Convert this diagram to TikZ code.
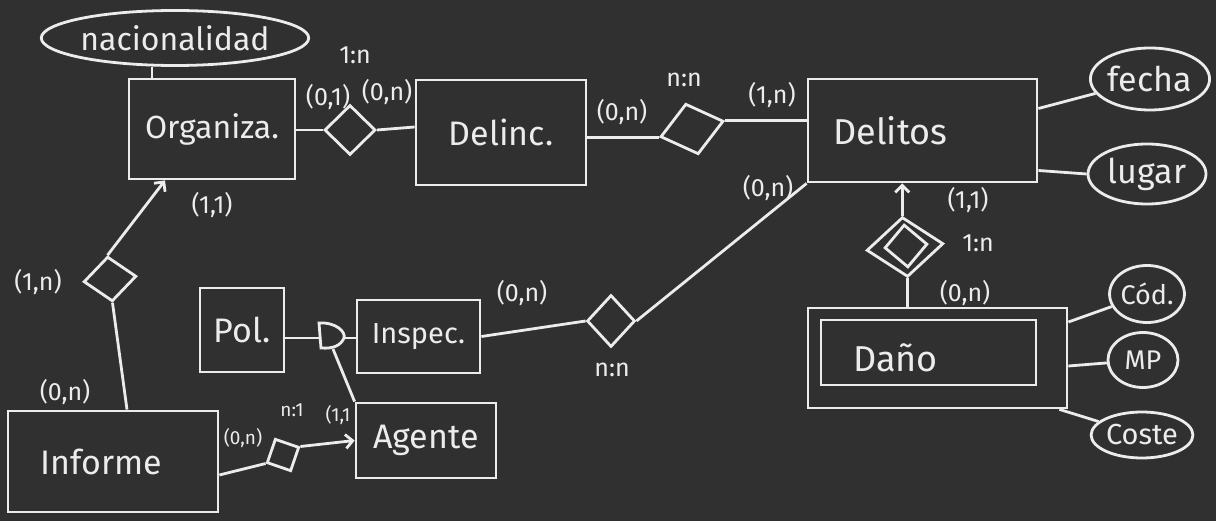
\documentclass[tikz,border=0pt]{standalone}
\usepackage{fontspec}
\setmainfont{Fira Sans}
\usetikzlibrary{shapes.geometric,arrows.meta,calc}
\definecolor{bg}{HTML}{303030}
\definecolor{ink}{HTML}{ECECEC}
\begin{document}
\begin{tikzpicture}[x=1pt,y=-1pt,line width=2.8pt,draw=ink,
  every node/.style={text=ink},
  ent/.style={draw,rectangle,inner sep=0pt,font=\fontsize{34}{36}\selectfont},
  attr/.style={draw,ellipse,inner sep=0pt,font=\fontsize{32}{34}\selectfont},
  rel/.style={draw,diamond,inner sep=0pt},
  lab/.style={inner sep=0pt,font=\fontsize{25}{27}\selectfont},
  slab/.style={inner sep=0pt,font=\fontsize{19}{21}\selectfont},
  arr/.style={-{Straight Barb[length=7pt,width=14pt]}}]
\fill[bg] (0,0) rectangle (1216,521);
\useasboundingbox (0,0) rectangle (1216,521);

% entities
\node[ent,minimum width=166pt,minimum height=100pt,font=\fontsize{32}{34}\selectfont] (org) at (212,129) {Organiza.};
\node[ent,minimum width=170pt,minimum height=105pt] (delinc) at (501,132.5) {Delinc.};
\node[ent,minimum width=229pt,minimum height=103pt,font=\fontsize{36}{38}\selectfont] (delito) at (922.5,130.5) {\hspace*{-64pt}Delitos};
\node[ent,minimum width=123pt,minimum height=73pt,font=\fontsize{29}{31}\selectfont] (inspec) at (418.5,336.5) {Inspec.};
\node[ent,minimum width=84pt,minimum height=84pt] (pol) at (242,330) {Pol.};
\node[ent,minimum width=140pt,minimum height=75pt] (agente) at (426,440.5) {Agente};
\node[ent,minimum width=210pt,minimum height=101pt] (informe) at (113,461.5) {\hspace*{-24pt}Informe};
\node[ent,minimum width=259pt,minimum height=100pt,font=\fontsize{36}{38}\selectfont] (dano) at (937.5,358) {\hspace*{-84pt}Daño};
\node[draw,rectangle,minimum width=215pt,minimum height=65pt,inner sep=0pt] (danoin) at (928.5,352.5) {};

% attributes
\node[attr,minimum width=245pt,minimum height=55pt] (nac) at (175,38) {nacionalidad};
\node[attr,minimum width=115pt,minimum height=62pt,font=\fontsize{34}{36}\selectfont] (fecha) at (1150,79) {fecha};
\node[attr,minimum width=118pt,minimum height=60pt,font=\fontsize{34}{36}\selectfont] (lugar) at (1147,174) {lugar};
\node[attr,minimum width=70pt,minimum height=57pt,font=\fontsize{27}{29}\selectfont] (cod) at (1147,294) {Cód.};
\node[attr,minimum width=70pt,minimum height=55pt,font=\fontsize{27}{29}\selectfont] (mp) at (1143,360) {MP};
\node[attr,minimum width=97pt,minimum height=46pt,font=\fontsize{29}{31}\selectfont] (coste) at (1142,435) {Coste};

% relationships
\node[rel,minimum width=51pt,minimum height=50pt] (r1) at (350,130) {};
\node[rel,minimum width=65pt,minimum height=52pt,rotate=14] (r2) at (692,129) {};
\node[rel,minimum width=48pt,minimum height=52pt] (r3) at (611,321) {};
\node[rel,minimum width=53pt,minimum height=45pt,rotate=6] (r4) at (110,279) {};
\node[rel,minimum width=36pt,minimum height=36pt,rotate=26] (r5) at (283,455) {};
\node[rel,minimum width=77pt,minimum height=60pt,rotate=5] (r6) at (905,247) {};
\node[rel,minimum width=43pt,minimum height=43pt,rotate=5] (r6in) at (906,246) {};

% ISA symbol
\coordinate (isaW) at (319,338);
\coordinate (isaE) at (344,338);
\coordinate (isaS) at (333,349);
\draw (319,323) .. controls (336,322) and (346,332) .. (344,338)
      .. controls (341,345) and (334,349) .. (321,348) -- cycle;

% connectors
\draw (org.north -| 152,0) -- (nac.south -| 152,0);
\draw (org.east |- r1.west) -- (r1.west);
\draw (r1.east) -- (delinc.west |- 0,127);
\draw (delinc.east |- r2.west) -- (r2.west);
\draw (r2.east) -- (delito.west |- r2.east);
\draw ([yshift=22pt]delito.east) -- (fecha);
\draw ([yshift=-40pt]delito.east) -- (lugar.west);
\draw (r3.east) -- (delito.south west);
\draw (inspec.east) -- (r3.west);
\draw ([xshift=14pt]informe.north) -- (r4.south);
\draw[arr] (r4.north) -- ([xshift=-47pt]org.south);
\draw ([yshift=-13.5pt]informe.east) -- (r5.west);
\draw[arr] (r5.east) -- (agente.west);
\draw (pol.east |- isaW) -- (isaW);
\draw (isaE) -- (inspec.west |- isaE);
\draw (isaS) -- (agente.north west);
\draw[arr] (r6.north) -- (delito.south -| r6.north);
\draw (r6.south) -- (dano.north -| r6.south);
\draw ([yshift=36pt]dano.east) -- (cod);
\draw ([yshift=-8pt]dano.east) -- (mp);
\draw ([xshift=-9pt]dano.south east) -- (coste);

% labels
\node[lab] (l1) at (355,55) {1:n};
\node[lab] (l2) at (328,97) {(0,1)};
\node[lab] (l3) at (387,92) {(0,n)};
\node[lab] (l4) at (212,205) {(1,1)};
\node[lab] (l5) at (38,282) {(1,n)};
\node[lab] (l6) at (65,392) {(0,n)};
\node[slab] (l7) at (243,438) {(0,n)};
\node[slab] (l8) at (292,410) {n:1};
\node[slab] (l9) at (338,415) {(1,1};
\node[lab] (l10) at (522,293) {(0,n)};
\node[lab] (l11) at (612,370) {n:n};
\node[lab] (l12) at (622,112) {(0,n)};
\node[lab] (l13) at (684,80) {n:n};
\node[lab] (l14) at (772,95) {(1,n)};
\node[lab] (l15) at (768,188) {(0,n)};
\node[lab] (l16) at (968,200) {(1,1)};
\node[lab] (l17) at (978,243) {1:n};
\node[lab] (l18) at (965,293) {(0,n)};
\end{tikzpicture}
\end{document}
